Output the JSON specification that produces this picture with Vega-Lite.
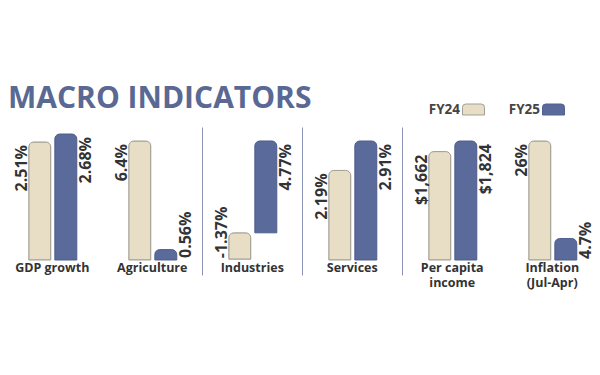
{
  "$schema": "https://vega.github.io/schema/vega-lite/v6.json",
  "background": "white",
  "padding": {"left": 2, "top": 84, "right": 0, "bottom": 30},
  "title": {"text": "MACRO INDICATORS", "anchor": "start", "font": "Open Sans", "fontWeight": "bold", "fontSize": 30, "color": "#5a6894", "offset": -16, "dx": 6},
  "data": {"values": [
    {"indicator": "GDP growth", "year": "FY24", "value": 2.51, "label": "2.51%"},
    {"indicator": "GDP growth", "year": "FY25", "value": 2.68, "label": "2.68%"},
    {"indicator": "Agriculture", "year": "FY24", "value": 6.4, "label": "6.4%"},
    {"indicator": "Agriculture", "year": "FY25", "value": 0.56, "label": "0.56%"},
    {"indicator": "Industries", "year": "FY24", "value": -1.37, "label": "-1.37%"},
    {"indicator": "Industries", "year": "FY25", "value": 4.77, "label": "4.77%"},
    {"indicator": "Services", "year": "FY24", "value": 2.19, "label": "2.19%"},
    {"indicator": "Services", "year": "FY25", "value": 2.91, "label": "2.91%"},
    {"indicator": "Per capita income", "year": "FY24", "value": 1662, "label": "$1,662"},
    {"indicator": "Per capita income", "year": "FY25", "value": 1824, "label": "$1,824"},
    {"indicator": "Inflation (Jul-Apr)", "year": "FY24", "value": 26, "label": "26%"},
    {"indicator": "Inflation (Jul-Apr)", "year": "FY25", "value": 4.7, "label": "4.7%"}
  ]},
  "spacing": 0,
  "bounds": "flush",
  "hconcat": [
    {
      "width": 99.5, "height": 148,
      "transform": [{"filter": "datum.indicator === 'GDP growth'"}],
      "encoding": {
        "x": {"field": "year", "type": "nominal", "scale": {"paddingInner": 0.154, "paddingOuter": 0.99, "align": 0.52}, "axis": {"title": "GDP growth"}},
        "y": {"field": "value", "type": "quantitative", "scale": {"domain": [-0.319, 2.829], "nice": false}, "axis": null}
      },
      "layer": [
        {"mark": {"type": "bar", "cornerRadiusEnd": 5, "strokeWidth": 1},
         "encoding": {"color": {"field": "year", "type": "nominal", "title": null}, "stroke": {"field": "year", "type": "nominal", "title": null, "scale": {"range": ["#a19f95", "#52618f"]}}}},
        {"transform": [{"filter": "datum.year === 'FY24'"}], "mark": {"type": "text", "align": "right", "baseline": "alphabetic", "xOffset": -13, "yOffset": 3}, "encoding": {"text": {"field": "label"}}},
        {"transform": [{"filter": "datum.year === 'FY25'"}], "mark": {"type": "text", "align": "right", "baseline": "top", "xOffset": 12, "yOffset": 3}, "encoding": {"text": {"field": "label"}}}
      ]
    },
    {
      "width": 99.5, "height": 148,
      "transform": [{"filter": "datum.indicator === 'Agriculture'"}],
      "encoding": {
        "x": {"field": "year", "type": "nominal", "scale": {"paddingInner": 0.154, "paddingOuter": 0.99, "align": 0.52}, "axis": {"title": "Agriculture"}},
        "y": {"field": "value", "type": "quantitative", "scale": {"domain": [-0.807, 7.153], "nice": false}, "axis": {"title": null}}
      },
      "layer": [
        {"mark": {"type": "bar", "cornerRadiusEnd": 5, "strokeWidth": 1},
         "encoding": {"color": {"field": "year", "type": "nominal", "title": null}, "stroke": {"field": "year", "type": "nominal", "title": null, "scale": {"range": ["#a19f95", "#52618f"]}}}},
        {"transform": [{"filter": "datum.year === 'FY24'"}], "mark": {"type": "text", "align": "right", "baseline": "alphabetic", "xOffset": -13, "yOffset": 3}, "encoding": {"text": {"field": "label"}}},
        {"transform": [{"filter": "datum.year === 'FY25'"}], "mark": {"type": "text", "align": "left", "baseline": "top", "xOffset": 12, "yOffset": -2}, "encoding": {"y": {"datum": 0, "type": "quantitative", "axis": null}, "text": {"field": "label"}}}
      ]
    },
    {
      "width": 99.5, "height": 148,
      "transform": [{"filter": "datum.indicator === 'Industries'"}],
      "encoding": {
        "x": {"field": "year", "type": "nominal", "scale": {"paddingInner": 0.154, "paddingOuter": 0.99, "align": 0.52}, "axis": {"title": "Industries"}},
        "y": {"field": "value", "type": "quantitative", "scale": {"domain": [-2.19, 5.495], "nice": false}, "axis": {"title": null}}
      },
      "layer": [
        {"mark": {"type": "bar", "cornerRadiusEnd": 5, "strokeWidth": 1},
         "encoding": {"color": {"field": "year", "type": "nominal", "title": null}, "stroke": {"field": "year", "type": "nominal", "title": null, "scale": {"range": ["#a19f95", "#52618f"]}}}},
        {"transform": [{"filter": "datum.year === 'FY24'"}], "mark": {"type": "text", "align": "left", "baseline": "alphabetic", "xOffset": -13, "yOffset": -1}, "encoding": {"text": {"field": "label"}}},
        {"transform": [{"filter": "datum.year === 'FY25'"}], "mark": {"type": "text", "align": "right", "baseline": "top", "xOffset": 12, "yOffset": 3}, "encoding": {"text": {"field": "label"}}}
      ]
    },
    {
      "width": 99.5, "height": 148,
      "transform": [{"filter": "datum.indicator === 'Services'"}],
      "encoding": {
        "x": {"field": "year", "type": "nominal", "scale": {"paddingInner": 0.154, "paddingOuter": 0.99, "align": 0.52}, "axis": {"title": "Services"}},
        "y": {"field": "value", "type": "quantitative", "scale": {"domain": [-0.367, 3.252], "nice": false}, "axis": {"title": null}}
      },
      "layer": [
        {"mark": {"type": "bar", "cornerRadiusEnd": 5, "strokeWidth": 1},
         "encoding": {"color": {"field": "year", "type": "nominal", "title": null}, "stroke": {"field": "year", "type": "nominal", "title": null, "scale": {"range": ["#a19f95", "#52618f"]}}}},
        {"transform": [{"filter": "datum.year === 'FY24'"}], "mark": {"type": "text", "align": "right", "baseline": "alphabetic", "xOffset": -13, "yOffset": 3}, "encoding": {"text": {"field": "label"}}},
        {"transform": [{"filter": "datum.year === 'FY25'"}], "mark": {"type": "text", "align": "right", "baseline": "top", "xOffset": 12, "yOffset": 3}, "encoding": {"text": {"field": "label"}}}
      ]
    },
    {
      "width": 99.5, "height": 148,
      "transform": [{"filter": "datum.indicator === 'Per capita income'"}],
      "encoding": {
        "x": {"field": "year", "type": "nominal", "scale": {"paddingInner": 0.154, "paddingOuter": 0.99, "align": 0.52}, "axis": {"title": ["Per capita", "income"]}},
        "y": {"field": "value", "type": "quantitative", "scale": {"domain": [-229.9, 2038.6], "nice": false}, "axis": {"title": null}}
      },
      "layer": [
        {"mark": {"type": "bar", "cornerRadiusEnd": 5, "strokeWidth": 1},
         "encoding": {"color": {"field": "year", "type": "nominal", "title": null}, "stroke": {"field": "year", "type": "nominal", "title": null, "scale": {"range": ["#a19f95", "#52618f"]}}}},
        {"transform": [{"filter": "datum.year === 'FY24'"}], "mark": {"type": "text", "align": "right", "baseline": "alphabetic", "xOffset": -13, "yOffset": 3}, "encoding": {"text": {"field": "label"}}},
        {"transform": [{"filter": "datum.year === 'FY25'"}], "mark": {"type": "text", "align": "right", "baseline": "top", "xOffset": 12, "yOffset": 3}, "encoding": {"text": {"field": "label"}}}
      ]
    },
    {
      "width": 99.5, "height": 148,
      "transform": [{"filter": "datum.indicator === 'Inflation (Jul-Apr)'"}],
      "encoding": {
        "x": {"field": "year", "type": "nominal", "scale": {"paddingInner": 0.154, "paddingOuter": 0.99, "align": 0.52}, "axis": {"title": ["Inflation", "(Jul-Apr)"]}},
        "y": {"field": "value", "type": "quantitative", "scale": {"domain": [-3.277, 29.06], "nice": false}, "axis": {"title": null}}
      },
      "layer": [
        {"mark": {"type": "bar", "cornerRadiusEnd": 5, "strokeWidth": 1},
         "encoding": {"color": {"field": "year", "type": "nominal", "title": null}, "stroke": {"field": "year", "type": "nominal", "title": null, "scale": {"range": ["#a19f95", "#52618f"]}}}},
        {"transform": [{"filter": "datum.year === 'FY24'"}], "mark": {"type": "text", "align": "right", "baseline": "alphabetic", "xOffset": -13, "yOffset": 3}, "encoding": {"text": {"field": "label"}}},
        {"transform": [{"filter": "datum.year === 'FY25'"}], "mark": {"type": "text", "align": "left", "baseline": "top", "xOffset": 12, "yOffset": -1}, "encoding": {"y": {"datum": 0, "type": "quantitative", "axis": null}, "text": {"field": "label"}}}
      ]
    }
  ],
  "config": {
    "view": {"stroke": null},
    "range": {"category": ["#e7dec5", "#5a6a9a"]},
    "text": {"font": "Open Sans", "fontWeight": "bold", "fontSize": 16, "fill": "#333333", "angle": 270},
    "axisX": {"labels": false, "ticks": false, "domain": false, "grid": false, "offset": -14, "titlePadding": 0, "titleFont": "Open Sans", "titleFontWeight": "bold", "titleFontSize": 12.5, "titleColor": "#333333", "titleLineHeight": 15.5},
    "axisY": {"labels": false, "ticks": false, "grid": false, "domainColor": "#8a93b4", "domainWidth": 1},
    "legend": {
      "orient": "none", "legendX": 460, "legendY": -29, "direction": "horizontal",
      "symbolType": "M-1,0.5L-1,-0.2Q-1,-0.5 -0.7,-0.5L0.7,-0.5Q1,-0.5 1,-0.2L1,0.5Z",
      "symbolSize": 484, "symbolStrokeWidth": 1, "symbolOpacity": 1,
      "labelAlign": "right", "labelOffset": -25, "labelFont": "Open Sans", "labelFontWeight": "bold", "labelFontSize": 13.5, "labelColor": "#444444",
      "columnPadding": 21
    }
  },
  "resolve": {"scale": {"y": "independent"}}
}
